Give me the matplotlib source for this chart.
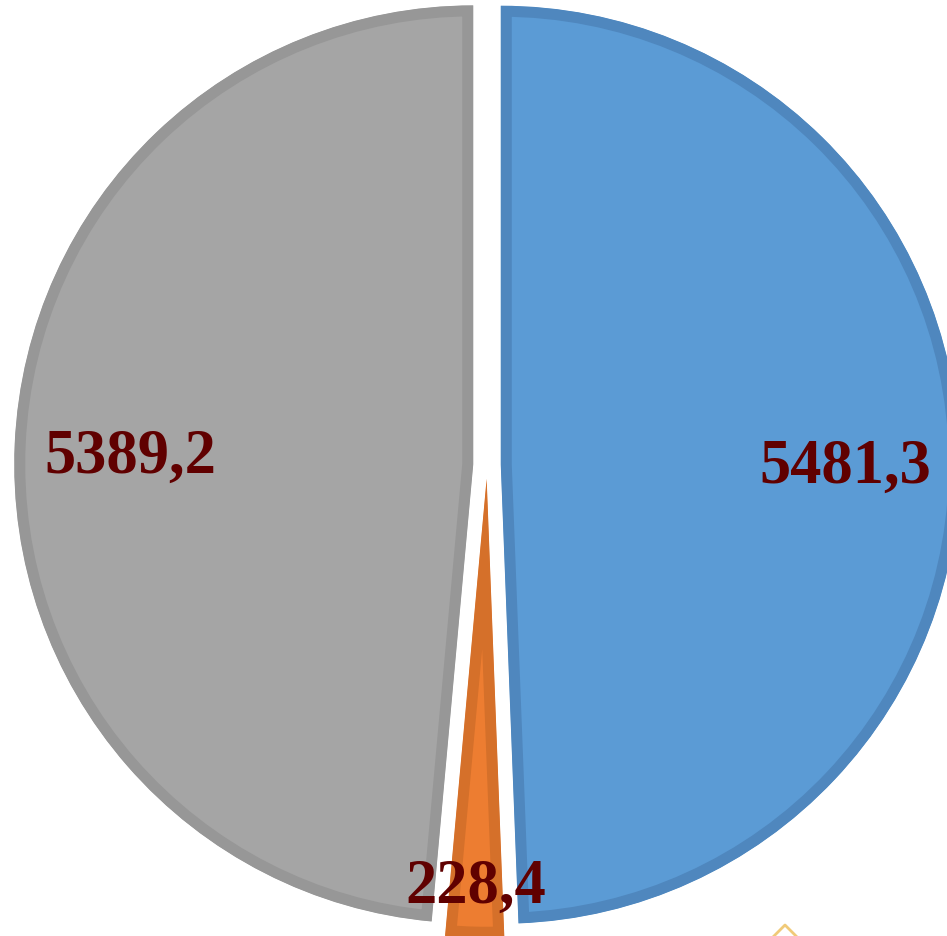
import matplotlib
matplotlib.use("Agg")
import matplotlib.pyplot as plt
from matplotlib.lines import Line2D

# Data
categories = ["A", "B", "C"]
values = [5481.3, 228.4, 5389.2]
labels = ["5481,3", "228,4", "5389,2"]
face_colors = ["#5B9BD5", "#ED7D31", "#A5A5A5"]
edge_colors = ["#4F87BE", "#D5702A", "#979797"]

W, H = 947, 936
DPI = 100
R_PX = 459.0
CX, CY = 487.0, 465.0

fig = plt.figure(figsize=(W / DPI, H / DPI), dpi=DPI)
ax = fig.add_axes([0, 0, 1, 1])
ax.set_axis_off()

wedges, _ = ax.pie(values, startangle=90, counterclock=False,
                   colors=face_colors, explode=[0.03, 0.03, 0.03],
                   radius=1.0, frame=False)

border_px = 11
lw_pt = 2 * border_px * 72 / DPI
for w, ec in zip(wedges, edge_colors):
    w.set_edgecolor(ec)
    w.set_linewidth(lw_pt)
    w.set_joinstyle("miter")
    w.set_clip_on(True)
    w.set_clip_path(w)

ax.set_xlim(-CX / R_PX, (W - CX) / R_PX)
ax.set_ylim(-(H - CY) / R_PX, CY / R_PX)
ax.set_aspect("auto")

def px2d(px, py):
    return (px - CX) / R_PX, (CY - py) / R_PX

label_pos_px = [(845, 483), (476, 903), (130, 473)]
for lab, (px, py) in zip(labels, label_pos_px):
    x, y = px2d(px, py)
    ax.text(x, y, lab, ha="center", va="baseline",
            fontsize=45, fontweight="bold", color="#600000",
            family=["Liberation Serif", "DejaVu Serif"])

# small partially visible diamond outline at the bottom edge
dx = [px2d(758, 952)[0], px2d(785, 925)[0], px2d(812, 952)[0]]
dy = [px2d(758, 952)[1], px2d(785, 925)[1], px2d(812, 952)[1]]
ax.add_line(Line2D(dx, dy, color="#EFC56A", lw=2.0, alpha=0.9))

fig.savefig("out.png", dpi=DPI)
